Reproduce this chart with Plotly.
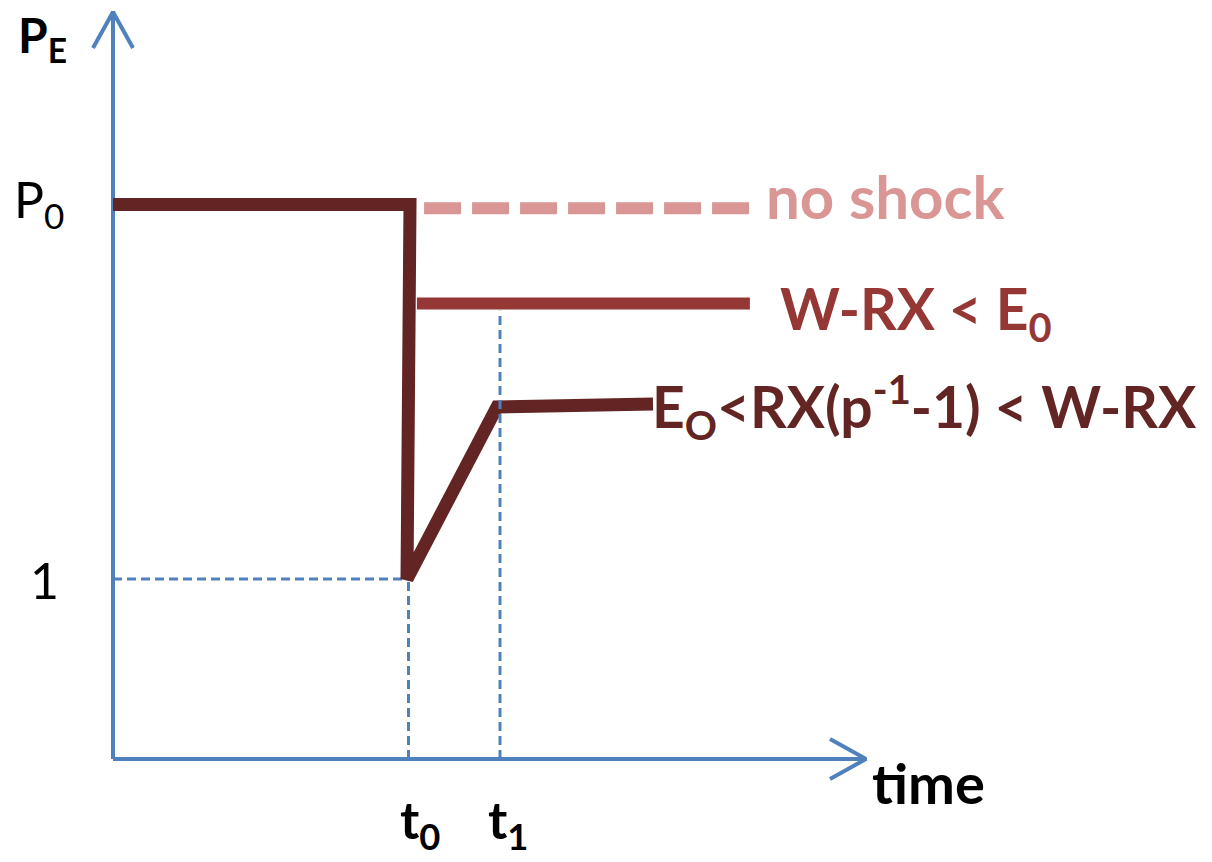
import plotly.graph_objects as go

# ---- data (conceptual units: time on x, price P_E on y) ----
P0 = 3.08            # pre-shock price level
P_floor = 1.0        # price at the shock bottom
t0 = 9.85            # shock time
t1 = 12.9            # recovery time
main_t = [0.0, 9.9, 9.8, 12.8, 18.0]
main_p = [3.08, 3.08, 1.0, 1.956, 1.972]
noshock_t = [10.37, 21.23]
noshock_p = [3.06, 3.06]
wrx_t = [10.13, 21.23]
wrx_p = [2.53, 2.53]
t1_level = 2.49
x_axis_end = 25.1
y_axis_end = 4.15

# ---- layout constants ----
OFF = 8                       # page body margin
W, H = 1212 - 2 * OFF, 862 - 2 * OFF
ox, oy = 113 - OFF, 759 - OFF  # pixel position of origin inside the figure
sx, sy = 30.0, 180.0          # pixels per unit
xr = [-ox / sx, (W - ox) / sx]
yr = [-(H - oy) / sy, oy / sy]

BLUE = "#4F81BD"
DARK = "#632523"
RED = "#953735"
PINK = "#D99694"
FONT = "Lato"

fig = go.Figure()

def line(xs, ys, color, width, dash="solid"):
    fig.add_trace(go.Scatter(x=xs, y=ys, mode="lines", hoverinfo="skip",
                             line=dict(color=color, width=width, dash=dash),
                             showlegend=False))

# axes
line([0, 0], [0, y_axis_end], BLUE, 4)
line([0, x_axis_end], [0, 0], BLUE, 4)
ah_w, ah_d = 20, 36
line([-ah_w / sx, 0, ah_w / sx], [y_axis_end - ah_d / sy, y_axis_end, y_axis_end - ah_d / sy], BLUE, 4)
line([x_axis_end - ah_d / sx, x_axis_end, x_axis_end - ah_d / sx], [ah_w / sy, 0, -ah_w / sy], BLUE, 4)

# dotted guides
line([0, t0], [P_floor, P_floor], BLUE, 3, "9px,5px")
line([t0, t0], [0, P_floor], BLUE, 3, "9px,5px")

# series
line(noshock_t, noshock_p, PINK, 12, "37px,11px")
line(wrx_t, wrx_p, RED, 12)
fig.add_trace(go.Scatter(x=main_t, y=main_p, mode="lines", hoverinfo="skip",
                         line=dict(color=DARK, width=13), showlegend=False))

line([t1, t1], [0, t1_level], BLUE, 3, "9px,5px")

def txt(px, py, text, size, color="black", bold=False, xanchor="left", yanchor="middle"):
    fig.add_annotation(x=(px - OFF) / W, y=1 - (py - OFF) / H, xref="paper", yref="paper",
                       text=f"<b>{text}</b>" if bold else text, showarrow=False,
                       xanchor=xanchor, yanchor=yanchor,
                       font=dict(family=FONT, size=size, color=color))

txt(16, 38, "P<sub>E</sub>", 48, bold=True)
txt(12, 202, "P<sub>0</sub>", 50)
txt(28, 580, "1", 50)
txt(764, 196, "no shock", 60, PINK, bold=True)
txt(778, 312, "W-RX &lt; E<sub>0</sub>", 57, RED, bold=True)
txt(650, 406, "E<sub>O</sub>&lt;RX(p<sup>-1</sup>-1) &lt; W-RX", 57, DARK, bold=True)
txt(870, 782, "time", 56, bold=True)
txt(398, 823, "t<sub>0</sub>", 52, bold=True)
txt(486, 823, "t<sub>1</sub>", 52, bold=True)

fig.update_layout(width=W, height=H, margin=dict(l=0, r=0, t=0, b=0),
                  plot_bgcolor="white", paper_bgcolor="white",
                  xaxis=dict(range=xr, visible=False, fixedrange=True),
                  yaxis=dict(range=yr, visible=False, fixedrange=True))

fig.write_html("out.html")
